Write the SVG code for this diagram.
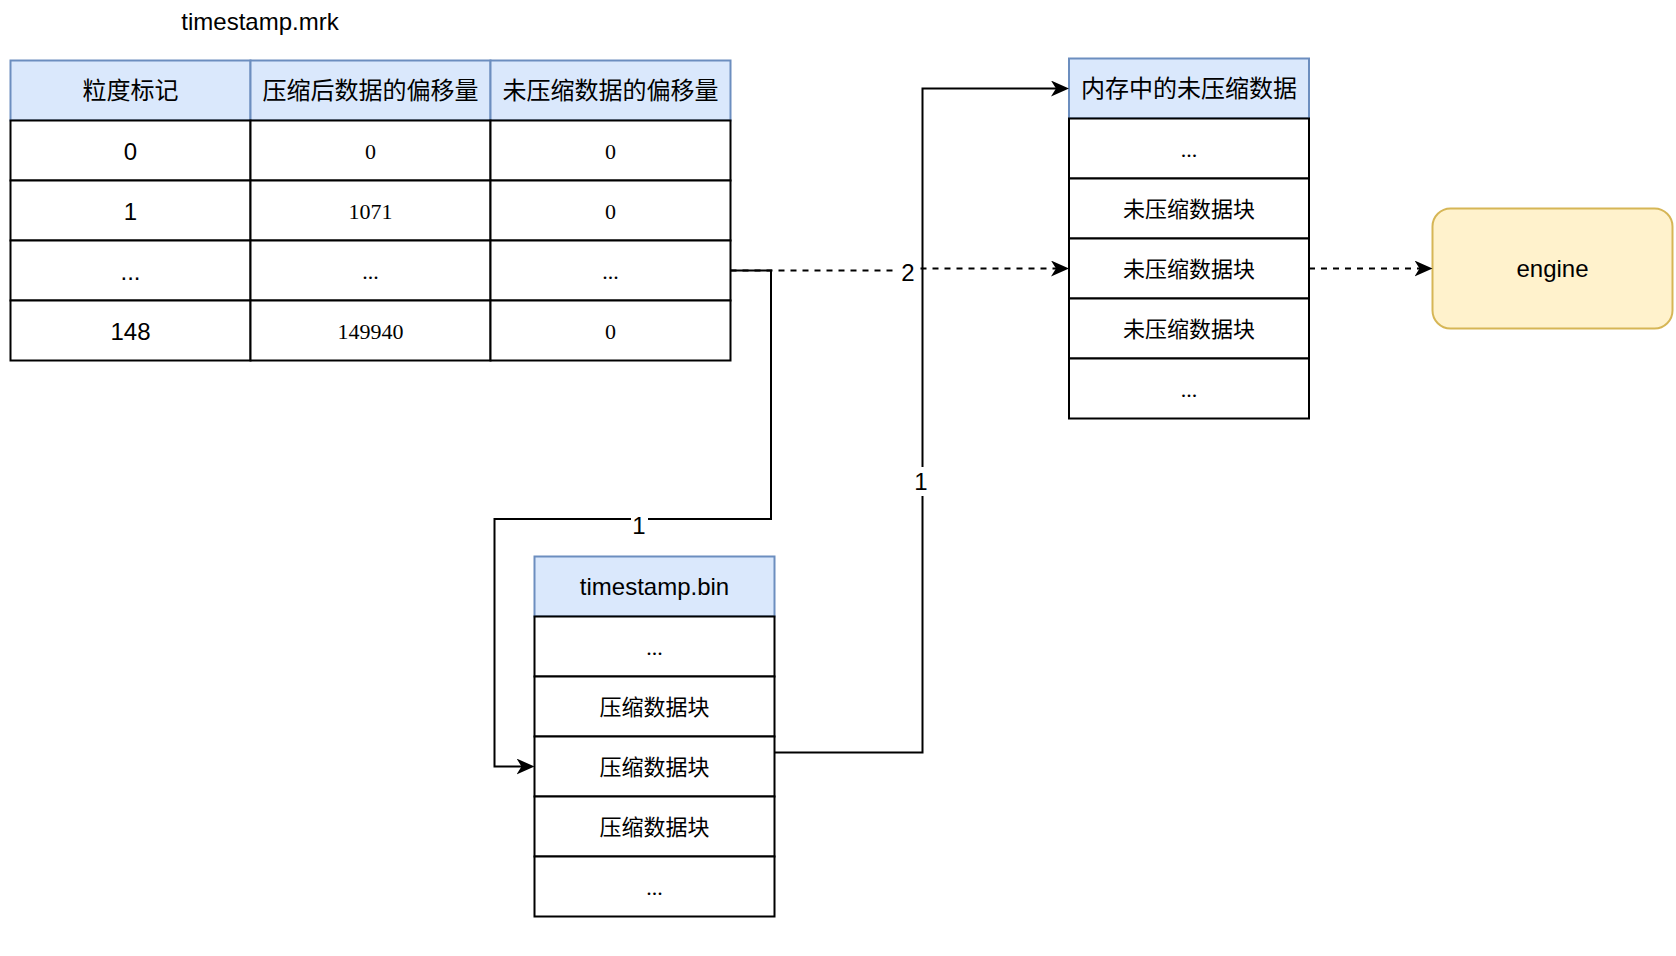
<svg xmlns="http://www.w3.org/2000/svg" width="1676" height="956" viewBox="0 0 1676 956">
<style>
.hd{fill:#dae8fc;stroke:#6c8ebf;stroke-width:2}
.cell{fill:#ffffff;stroke:#000000;stroke-width:2}
.eng{fill:#fff2cc;stroke:#d6b656;stroke-width:2}
.t{font-family:"Liberation Sans","Noto Sans CJK SC",sans-serif;font-size:24px;fill:#000;text-anchor:middle}
.s{font-family:"Liberation Serif","Noto Sans CJK SC",serif;font-size:22px;fill:#000;text-anchor:middle}
.e{fill:none;stroke:#000;stroke-width:2}
.d{stroke-dasharray:6 6}
.lb{fill:#fff;stroke:none}
</style>
<defs>
<marker id="arr" markerUnits="userSpaceOnUse" markerWidth="18" markerHeight="16" viewBox="0 0 18 16" refX="14" refY="8" orient="auto">
<path d="M0,0 L18,8 L0,16 L5,8 Z" fill="#000"/>
</marker>
</defs>

<text class="t" x="260" y="29.5">timestamp.mrk</text>

<g id="mrk-table">
<rect class="hd" x="10.5" y="60.5" width="240" height="60"/>
<rect class="hd" x="250.5" y="60.5" width="240" height="60"/>
<rect class="hd" x="490.5" y="60.5" width="240" height="60"/>
<text class="t" x="130.5" y="99">粒度标记</text>
<text class="t" x="370.5" y="99">压缩后数据的偏移量</text>
<text class="t" x="610.5" y="99">未压缩数据的偏移量</text>

<rect class="cell" x="10.5" y="120.5" width="240" height="60"/>
<rect class="cell" x="250.5" y="120.5" width="240" height="60"/>
<rect class="cell" x="490.5" y="120.5" width="240" height="60"/>
<rect class="cell" x="10.5" y="180.5" width="240" height="60"/>
<rect class="cell" x="250.5" y="180.5" width="240" height="60"/>
<rect class="cell" x="490.5" y="180.5" width="240" height="60"/>
<rect class="cell" x="10.5" y="240.5" width="240" height="60"/>
<rect class="cell" x="250.5" y="240.5" width="240" height="60"/>
<rect class="cell" x="490.5" y="240.5" width="240" height="60"/>
<rect class="cell" x="10.5" y="300.5" width="240" height="60"/>
<rect class="cell" x="250.5" y="300.5" width="240" height="60"/>
<rect class="cell" x="490.5" y="300.5" width="240" height="60"/>

<text class="t" x="130.5" y="159.5">0</text>
<text class="s" x="370.5" y="159">0</text>
<text class="s" x="610.5" y="159">0</text>
<text class="t" x="130.5" y="219.5">1</text>
<text class="s" x="370.5" y="219">1071</text>
<text class="s" x="610.5" y="219">0</text>
<text class="t" x="130.5" y="279.5">...</text>
<text class="s" x="370.5" y="279">...</text>
<text class="s" x="610.5" y="279">...</text>
<text class="t" x="130.5" y="339.5">148</text>
<text class="s" x="370.5" y="339">149940</text>
<text class="s" x="610.5" y="339">0</text>
</g>

<g id="bin">
<rect class="hd" x="534.5" y="556.5" width="240" height="60"/>
<text class="t" x="654.5" y="595">timestamp.bin</text>
<rect class="cell" x="534.5" y="616.5" width="240" height="60"/>
<rect class="cell" x="534.5" y="676.5" width="240" height="60"/>
<rect class="cell" x="534.5" y="736.5" width="240" height="60"/>
<rect class="cell" x="534.5" y="796.5" width="240" height="60"/>
<rect class="cell" x="534.5" y="856.5" width="240" height="60"/>
<text class="s" x="654.5" y="655">...</text>
<text class="s" x="654.5" y="714.5">压缩数据块</text>
<text class="s" x="654.5" y="774.5">压缩数据块</text>
<text class="s" x="654.5" y="834.5">压缩数据块</text>
<text class="s" x="654.5" y="895">...</text>
</g>

<g id="memory">
<rect class="hd" x="1069" y="58.5" width="240" height="60"/>
<text class="t" x="1189" y="97">内存中的未压缩数据</text>
<rect class="cell" x="1069" y="118.5" width="240" height="60"/>
<rect class="cell" x="1069" y="178.5" width="240" height="60"/>
<rect class="cell" x="1069" y="238.5" width="240" height="60"/>
<rect class="cell" x="1069" y="298.5" width="240" height="60"/>
<rect class="cell" x="1069" y="358.5" width="240" height="60"/>
<text class="s" x="1189" y="157">...</text>
<text class="s" x="1189" y="216.5">未压缩数据块</text>
<text class="s" x="1189" y="276.5">未压缩数据块</text>
<text class="s" x="1189" y="336.5">未压缩数据块</text>
<text class="s" x="1189" y="397">...</text>
</g>

<g id="engine">
<rect class="eng" x="1432.5" y="208.5" width="240" height="120" rx="18" ry="18"/>
<text class="t" x="1552.5" y="277">engine</text>
</g>

<g id="connectors">
<path class="e d" d="M730.5,270.5 H908 V268.5 H1065" marker-end="url(#arr)"/>
<rect class="lb" x="898" y="259" width="20" height="26"/>
<text class="t" x="908" y="280.5">2</text>

<path class="e" d="M730.5,270.5 H771 V519 H494.5 V766.5 H530.5" marker-end="url(#arr)"/>
<rect class="lb" x="631" y="512" width="17" height="26"/>
<text class="t" x="639" y="533.5">1</text>

<path class="e" d="M774.5,752.5 H922.5 V88.5 H1065" marker-end="url(#arr)"/>
<rect class="lb" x="914" y="467" width="17" height="29"/>
<text class="t" x="921" y="490">1</text>

<path class="e d" d="M1309,268.5 H1428.5" marker-end="url(#arr)"/>
</g>
</svg>
